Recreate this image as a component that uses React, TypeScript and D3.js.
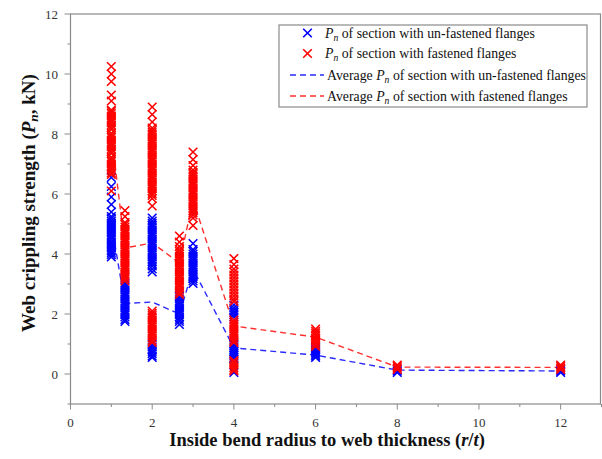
import React from "react";
import * as d3 from "d3";

// r/t values of the tested sections
const rt = [1, 4 / 3, 2, 8 / 3, 3, 4, 6, 8, 12];

// Pn (kN) of sections with un-fastened flanges, one list per r/t
const unfastened = [
  [6.55, 6.25, 5.9, 5.65, 5.4, 5.25, 5.18, 5.1, 5.03, 4.96, 4.9, 4.83, 4.76, 4.7, 4.62, 4.55, 4.48, 4.4, 4.33, 4.26, 4.2, 4.12, 4.05, 3.98, 3.9],
  [3.02, 2.95, 2.88, 2.8, 2.72, 2.65, 2.58, 2.5, 2.42, 2.35, 2.28, 2.2, 2.12, 2.05, 1.98, 1.9, 1.82, 1.75],
  [5.2, 5.1, 5.02, 4.95, 4.88, 4.8, 4.72, 4.65, 4.58, 4.5, 4.42, 4.35, 4.28, 4.2, 4.12, 4.05, 3.98, 3.9, 3.82, 3.75, 3.68, 3.6, 3.5, 3.4,
    0.98, 0.9, 0.82, 0.75, 0.68, 0.6, 0.55],
  [2.58, 2.5, 2.42, 2.35, 2.28, 2.2, 2.12, 2.05, 1.98, 1.9, 1.82, 1.75, 1.65],
  [4.35, 4.15, 4.08, 4.0, 3.92, 3.85, 3.78, 3.7, 3.62, 3.55, 3.48, 3.4, 3.32, 3.25, 3.18, 3.1, 3.02],
  [2.3, 2.2, 2.12, 2.05, 1.98, 1.9, 1.0, 0.95, 0.88, 0.82, 0.75, 0.68, 0.62, 0.55, 0.5, 0.05],
  [0.88, 0.82, 0.75, 0.7, 0.65, 0.6, 0.55],
  [0.15, 0.1, 0.05],
  [0.15, 0.1, 0.05],
];

// Pn (kN) of sections with fastened flanges, one list per r/t
const fastened = [
  [10.25, 10.0, 9.75, 9.3, 9.1, 8.8, 8.75, 8.68, 8.6, 8.52, 8.45, 8.38, 8.3, 8.22, 8.15, 8.02, 7.95, 7.88, 7.8, 7.72, 7.65, 7.58,
    7.5, 7.42, 7.35, 7.22, 7.15, 7.08, 7.0, 6.92, 6.85, 6.78, 6.7, 6.65, 6.1],
  [5.45, 5.25, 5.05, 4.98, 4.9, 4.82, 4.75, 4.68, 4.6, 4.52, 4.45, 4.38, 4.3, 4.22, 4.15, 4.08, 4.0, 3.92, 3.85, 3.78, 3.7, 3.62,
    3.55, 3.48, 3.4, 3.32, 3.25, 3.18, 3.1],
  [8.9, 8.65, 8.4, 8.2, 8.12, 8.05, 7.98, 7.9, 7.82, 7.75, 7.68, 7.6, 7.52, 7.45, 7.38, 7.3, 7.22, 7.15, 7.08, 7.0, 6.92, 6.85,
    6.78, 6.7, 6.62, 6.55, 6.48, 6.4, 6.32, 6.25, 6.18, 6.1, 6.02, 5.95, 5.85, 5.6,
    2.1, 2.02, 1.95, 1.88, 1.8, 1.72, 1.65, 1.58, 1.5, 1.42, 1.35, 1.28, 1.2, 1.12, 1.05],
  [4.6, 4.4, 4.25, 4.15, 4.08, 4.0, 3.92, 3.85, 3.78, 3.7, 3.62, 3.55, 3.48, 3.4, 3.32, 3.25, 3.18, 3.1, 3.02, 2.95, 2.88, 2.8,
    2.72, 2.65],
  [7.4, 7.15, 6.95, 6.8, 6.72, 6.65, 6.58, 6.5, 6.42, 6.35, 6.28, 6.2, 6.12, 6.05, 5.98, 5.9, 5.82, 5.75, 5.68, 5.6, 5.52, 5.45,
    5.38, 5.3, 5.2, 4.95],
  [3.85, 3.65, 3.5, 3.4, 3.3, 3.2, 3.1, 3.0, 2.9, 2.8, 2.7, 2.6, 2.5, 2.42, 1.8, 1.72, 1.65, 1.58, 1.5, 1.42, 1.35, 1.28, 1.2,
    1.12, 1.05, 0.45, 0.38, 0.3, 0.22, 0.15, 0.1],
  [1.5, 1.42, 1.35, 1.28, 1.2, 1.12, 1.05, 0.98, 0.92],
  [0.3, 0.25, 0.2, 0.15],
  [0.3, 0.25, 0.2, 0.15],
];

// average Pn per r/t
const avgUnfastened = [5.0, 2.35, 2.4, 2.0, 3.5, 0.87, 0.63, 0.13, 0.1];
const avgFastened = [8.0, 4.2, 4.37, 3.7, 5.8, 1.6, 1.23, 0.23, 0.22];

const xTicks = [0, 2, 4, 6, 8, 10, 12];
const yTicks = [0, 2, 4, 6, 8, 10, 12];

const W = 602;
const H = 459;
const BLUE = "#0000ff";
const RED = "#ff0000";
const FRAME = "#8a8a8a";
const FONT = "'Liberation Serif', 'Times New Roman', serif";

const x = d3.scaleLinear().domain([0, 13]).range([70.5, 601.5]);
const y = d3.scaleLinear().domain([-1, 12]).range([404, 14]);

const cross = "M-4.3,-4.3L4.3,4.3M-4.3,4.3L4.3,-4.3";

const line = d3
  .line<number>()
  .x((_, i) => x(rt[i]))
  .y((d) => y(d));

const Pn = () => (
  <>
    <tspan fontStyle="italic">P</tspan>
    <tspan fontStyle="italic" fontSize="0.7em" dy="3">n</tspan>
    <tspan dy="-3"> </tspan>
  </>
);

const App = () => {
  const minorX = d3.range(0, 14);
  const minorY = d3.range(-1, 13);

  const points = (cols: number[][], color: string) =>
    cols.flatMap((vals, i) =>
      vals.map((v, j) => (
        <path
          key={`${color}-${i}-${j}`}
          d={cross}
          transform={`translate(${x(rt[i])},${y(v)})`}
          stroke={color}
          strokeWidth={1.6}
          fill="none"
        />
      ))
    );

  return (
    <svg
      width={W}
      height={H}
      style={{ position: "absolute", left: 0, top: 0, background: "#fff" }}
      fontFamily={FONT}
    >
      {/* frame */}
      <rect
        x={x(0)}
        y={y(12)}
        width={x(13) - x(0) - 1}
        height={y(-1) - y(12)}
        fill="none"
        stroke={FRAME}
        strokeWidth={1.2}
      />

      {/* x ticks */}
      {minorX.map((t) => (
        <line
          key={`xt${t}`}
          x1={x(t)}
          x2={x(t)}
          y1={y(-1)}
          y2={y(-1) + (t % 2 === 0 ? 5.5 : 3)}
          stroke={FRAME}
        />
      ))}
      {xTicks.map((t) => (
        <text key={`xl${t}`} x={x(t)} y={427} textAnchor="middle" fontSize={13} fill="#333">
          {t}
        </text>
      ))}

      {/* y ticks */}
      {minorY.map((t) => (
        <line
          key={`yt${t}`}
          x1={x(0)}
          x2={x(0) - (t % 2 === 0 ? 6 : 3)}
          y1={y(t)}
          y2={y(t)}
          stroke={FRAME}
        />
      ))}
      {yTicks.map((t) => (
        <text key={`yl${t}`} x={58} y={y(t) + 4.5} textAnchor="end" fontSize={13} fill="#333">
          {t}
        </text>
      ))}

      {/* axis titles */}
      <text x={327} y={446} textAnchor="middle" fontSize={18.5} fontWeight="bold" fill="#111">
        Inside bend radius to web thickness (<tspan fontStyle="italic">r</tspan>/
        <tspan fontStyle="italic">t</tspan>)
      </text>
      <text
        transform={`translate(35,203) rotate(-90)`}
        textAnchor="middle"
        fontSize={19}
        fontWeight="bold"
        fill="#111"
      >
        Web crippling strength (<tspan fontStyle="italic">P</tspan>
        <tspan fontStyle="italic" fontSize="0.7em" dy="3">n</tspan>
        <tspan dy="-3">, kN)</tspan>
      </text>

      {/* averages */}
      <path d={line(avgUnfastened) ?? ""} fill="none" stroke="#2a2aff" strokeWidth={1.4} strokeDasharray="6,4" />
      <path d={line(avgFastened) ?? ""} fill="none" stroke="#ff3030" strokeWidth={1.4} strokeDasharray="6,4" />

      {/* test points */}
      {points(unfastened, BLUE)}
      {points(fastened, RED)}

      {/* legend */}
      <g fontSize={13.8} fill="#111">
        <rect x={279} y={25} width={308} height={82} fill="#fff" stroke={FRAME} strokeWidth={1.2} />
        <path d={cross} transform="translate(307.5,33)" stroke={BLUE} strokeWidth={1.6} fill="none" />
        <text x={325} y={37.5}>
          <Pn />of section with un-fastened flanges
        </text>
        <path d={cross} transform="translate(307.5,53.5)" stroke={RED} strokeWidth={1.6} fill="none" />
        <text x={325} y={58}>
          <Pn />of section with fastened flanges
        </text>
        <line x1={290} x2={324} y1={75} y2={75} stroke="#2a2aff" strokeWidth={1.4} strokeDasharray="6,4" />
        <text x={327} y={79.5}>
          Average <Pn />of section with un-fastened flanges
        </text>
        <line x1={290} x2={324} y1={96} y2={96} stroke="#ff3030" strokeWidth={1.4} strokeDasharray="6,4" />
        <text x={327} y={100.5}>
          Average <Pn />of section with fastened flanges
        </text>
      </g>
    </svg>
  );
};

export default App;
